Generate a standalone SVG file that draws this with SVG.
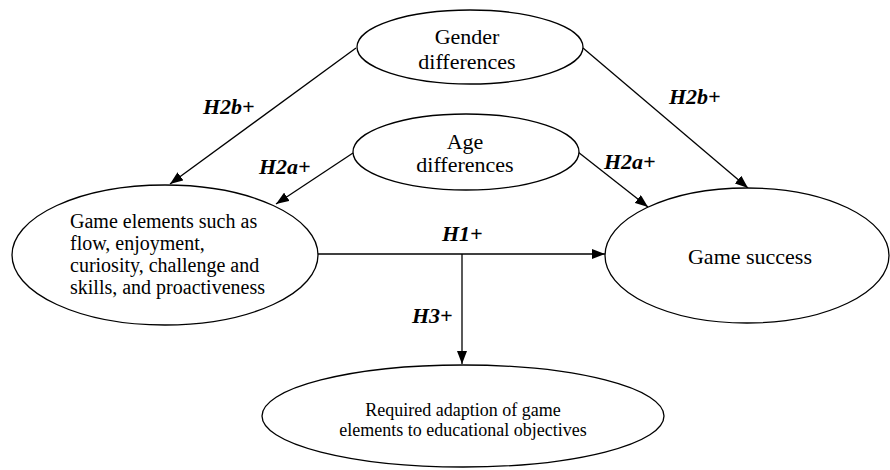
<svg xmlns="http://www.w3.org/2000/svg" width="890" height="470" viewBox="0 0 890 470">
<style>
.node ellipse{fill:#fff;stroke:#000;stroke-width:1.3}
.t{font-family:'Liberation Serif','Tinos','DejaVu Serif',serif;fill:#000}
.c{text-anchor:middle}
.lbl{font-family:'Liberation Serif','Tinos','DejaVu Serif',serif;font-weight:bold;font-style:italic;font-size:22px;fill:#000}
.edge{stroke:#000;stroke-width:1.3;fill:none;marker-end:url(#ah)}
</style>
<defs>
<marker id="ah" markerUnits="userSpaceOnUse" markerWidth="14" markerHeight="10" refX="13" refY="5" orient="auto">
<path d="M0,0 L13,5 L0,10 Z" fill="#000"/>
</marker>
</defs>
<rect width="890" height="470" fill="#fff"/>
<g id="connectors">
<line class="edge" x1="356" y1="48" x2="170" y2="184"/>
<line class="edge" x1="583" y1="48" x2="748" y2="188"/>
<line class="edge" x1="353" y1="153" x2="276" y2="204"/>
<line class="edge" x1="578" y1="152" x2="648" y2="207"/>
<line class="edge" x1="318" y1="254" x2="605" y2="254"/>
<line class="edge" x1="462" y1="254" x2="462" y2="364"/>
</g>
<g id="labels">
<text class="lbl" x="203" y="114">H2b+</text>
<text class="lbl" x="669" y="104">H2b+</text>
<text class="lbl" x="259" y="174">H2a+</text>
<text class="lbl" x="604" y="169">H2a+</text>
<text class="lbl" x="442" y="241">H1+</text>
<text class="lbl" x="412" y="323">H3+</text>
</g>
<g id="gender" class="node">
<ellipse cx="470" cy="47" rx="113" ry="37"/>
<text class="t c" x="467" y="44" font-size="22">Gender</text>
<text class="t c" x="467" y="69" font-size="22">differences</text>
</g>
<g id="age" class="node">
<ellipse cx="466" cy="152" rx="113" ry="38"/>
<text class="t c" x="465" y="149" font-size="22">Age</text>
<text class="t c" x="465" y="172" font-size="22">differences</text>
</g>
<g id="elements" class="node">
<ellipse cx="165" cy="255" rx="153" ry="70"/>
<text class="t" x="70" y="228" font-size="20">Game elements  such  as</text>
<text class="t" x="70" y="250" font-size="20">flow, enjoyment,</text>
<text class="t" x="70" y="272" font-size="20">curiosity, challenge and</text>
<text class="t" x="70" y="294" font-size="20">skills, and proactiveness</text>
</g>
<g id="success" class="node">
<ellipse cx="747" cy="255.5" rx="142" ry="67.5"/>
<text class="t c" x="750" y="264" font-size="22">Game success</text>
</g>
<g id="adaption" class="node">
<ellipse cx="463" cy="416" rx="201" ry="51"/>
<text class="t c" x="463" y="416" font-size="18">Required adaption  of game</text>
<text class="t c" x="463" y="436" font-size="18">elements to educational  objectives</text>
</g>
</svg>
